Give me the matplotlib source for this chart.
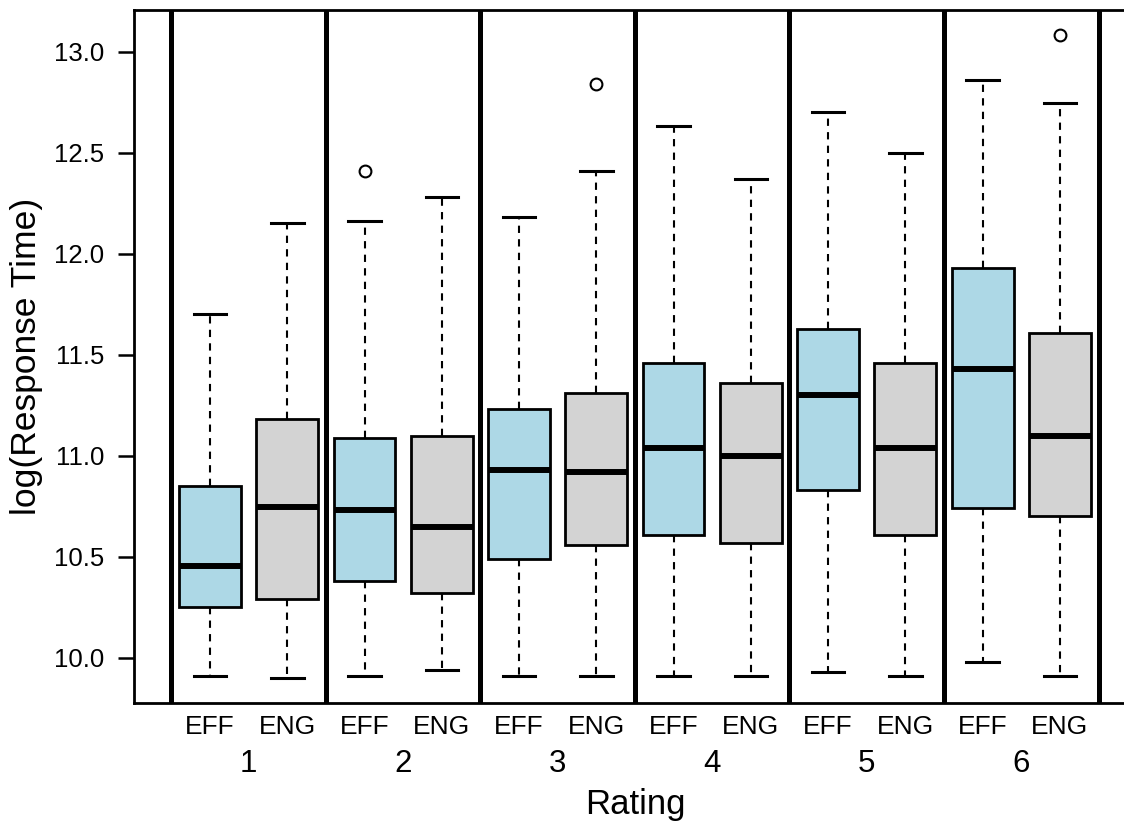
import matplotlib
matplotlib.use('Agg')
import matplotlib.pyplot as plt

plt.rcParams['font.family'] = ['Liberation Sans', 'DejaVu Sans']

# data (log response time by rating and condition)
ratings = ['1', '2', '3', '4', '5', '6']
conditions = ['EFF', 'ENG']

eff_q1 = [10.25, 10.38, 10.49, 10.61, 10.83, 10.74]
eff_med = [10.455, 10.73, 10.93, 11.04, 11.30, 11.43]
eff_q3 = [10.85, 11.09, 11.23, 11.46, 11.63, 11.93]
eff_lo = [9.91, 9.91, 9.91, 9.91, 9.93, 9.98]
eff_hi = [11.70, 12.16, 12.18, 12.63, 12.70, 12.86]
eff_out = [[], [12.41], [], [], [], []]

eng_q1 = [10.29, 10.32, 10.56, 10.57, 10.61, 10.70]
eng_med = [10.745, 10.65, 10.92, 11.00, 11.04, 11.10]
eng_q3 = [11.18, 11.10, 11.31, 11.36, 11.46, 11.61]
eng_lo = [9.90, 9.94, 9.91, 9.91, 9.91, 9.91]
eng_hi = [12.15, 12.28, 12.41, 12.37, 12.50, 12.745]
eng_out = [[], [], [12.84], [], [], [13.08]]

y_ticks = [10.0, 10.5, 11.0, 11.5, 12.0, 12.5, 13.0]

colors = ['lightblue', 'lightgray']

# build stats for bxp, alternating EFF / ENG within each rating
stats = []
labels = []
facecols = []
for i in range(len(ratings)):
    for c, (q1, med, q3, lo, hi, out) in enumerate([
            (eff_q1, eff_med, eff_q3, eff_lo, eff_hi, eff_out),
            (eng_q1, eng_med, eng_q3, eng_lo, eng_hi, eng_out)]):
        stats.append(dict(med=med[i], q1=q1[i], q3=q3[i],
                          whislo=lo[i], whishi=hi[i], fliers=out[i]))
        labels.append(conditions[c])
        facecols.append(colors[c])

positions = list(range(1, len(stats) + 1))

fig = plt.figure(figsize=(11.24, 8.23), dpi=100)
ax = fig.add_axes([134 / 1124, 120 / 823, 990 / 1124, 693 / 823])

bp = ax.bxp(stats, positions=positions, widths=0.8, patch_artist=True,
            capwidths=0.42,
            boxprops=dict(edgecolor='black', linewidth=2.0),
            medianprops=dict(color='black', linewidth=4.3, solid_capstyle='butt'),
            whiskerprops=dict(color='black', linewidth=1.5, linestyle=(0, (3.5, 3))),
            capprops=dict(color='black', linewidth=2.2),
            flierprops=dict(marker='o', markerfacecolor='none',
                            markeredgecolor='black', markersize=8.5,
                            markeredgewidth=1.5))
for patch, fc in zip(bp['boxes'], facecols):
    patch.set_facecolor(fc)

# thick separators between rating groups
n_per = len(conditions)
for g in range(len(ratings) + 1):
    ax.axvline(g * n_per + 0.5, color='black', linewidth=3.6, zorder=3)

ax.set_xlim(0.016, 12.83)
ax.set_ylim(9.777, 13.206)

ax.set_xticks(positions)
ax.set_xticklabels(labels, fontsize=19)
ax.tick_params(axis='x', length=0, pad=8.6)

ax.set_yticks(y_ticks)
ax.set_yticklabels([f'{v:.1f}' for v in y_ticks], fontsize=18.5)
ax.tick_params(axis='y', length=11.5, width=1.8, pad=10)

# rating numbers under each pair
for g, r in enumerate(ratings):
    ax.annotate(r, xy=(g * n_per + 1.5, 0), xycoords=('data', 'axes fraction'),
                xytext=(0, -33), textcoords='offset points',
                ha='center', va='top', fontsize=22.5)

ax.set_xlabel('Rating', fontsize=25)
ax.xaxis.set_label_coords(0.506, -0.122)
ax.set_ylabel('log(Response Time)', fontsize=25.5)
ax.yaxis.set_label_coords(-0.092, 0.5)

for side in ['left', 'bottom', 'top']:
    ax.spines[side].set_linewidth(2.0)
ax.spines['right'].set_visible(False)

fig.savefig('out.png', dpi=100)
